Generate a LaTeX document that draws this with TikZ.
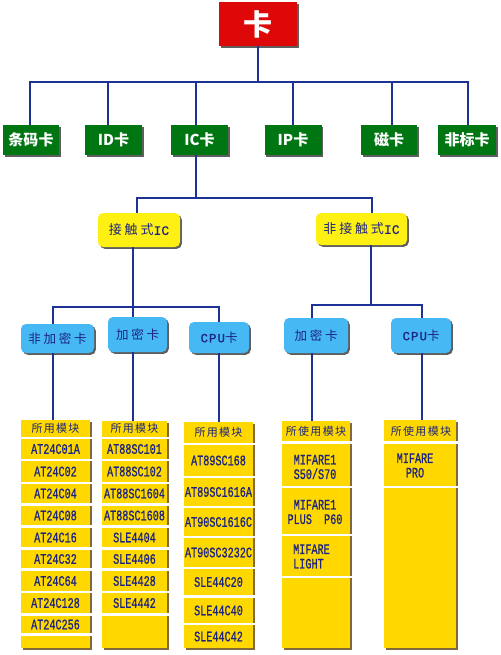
\documentclass[tikz,border=0pt]{standalone}
\usepackage{fontspec}
\usetikzlibrary{shadows}
\newfontfamily\cjk{Noto Sans CJK SC}
\newfontfamily\cjks[LetterSpace=22]{Noto Sans CJK SC}
\newfontfamily\cjkh[LetterSpace=12]{Noto Sans CJK SC}
\newfontfamily\mono[FakeStretch=0.7,FakeBold=0.8]{Liberation Mono}
\newfontfamily\monoy[FakeBold=0.8]{Liberation Mono}
\newfontfamily\monow[LetterSpace=8,FakeBold=0.8]{Liberation Mono}
\definecolor{connc}{RGB}{30,50,150}
\definecolor{redc}{RGB}{222,8,8}
\definecolor{greenc}{RGB}{0,118,18}
\definecolor{yellowc}{RGB}{255,240,20}
\definecolor{bluec}{RGB}{70,184,244}
\definecolor{goldc}{RGB}{255,216,0}
\definecolor{navyc}{RGB}{28,36,128}
\definecolor{shadc}{RGB}{95,95,95}
\definecolor{colshad}{RGB}{130,105,60}
\tikzset{
  conn/.style={draw=connc, line width=1.8pt},
  boxshadow/.style={drop shadow={shadow xshift=1.8pt, shadow yshift=-1.8pt, fill=shadc, opacity=1}},
  redbox/.style={fill=redc, inner sep=0pt, text=white, boxshadow,
    font=\cjk\bfseries\fontsize{29}{30}\selectfont},
  greenbox/.style={fill=greenc, minimum height=30pt, inner sep=0pt, text=white, boxshadow,
    font=\cjk\bfseries\fontsize{15}{16}\selectfont},
  yellowbox/.style={fill=yellowc, rounded corners=5pt, inner sep=0pt, text=navyc, boxshadow,
    font=\fontsize{13}{14}\selectfont},
  bluebox/.style={fill=bluec, rounded corners=5pt, inner sep=0pt, text=navyc, boxshadow,
    font=\fontsize{12.5}{14}\selectfont},
  colbox/.style={fill=goldc, inner sep=0pt,
    drop shadow={shadow xshift=2pt, shadow yshift=-2pt, fill=colshad, opacity=1}},
  colhead/.style={inner sep=0pt, text=navyc, font=\cjkh\fontsize{11}{12}\selectfont},
  coltext/.style={inner sep=0pt, text=navyc, align=center, font=\mono\fontsize{14.5}{14.5}\selectfont},
  sep/.style={draw=white, line width=2.2pt}
}
\begin{document}
\begin{tikzpicture}[x=1pt,y=-1pt]
\useasboundingbox[fill=white] (0,0) rectangle (500,655);

% level 0
\node[redbox, minimum width=78pt, minimum height=44pt] (root) at (258,24) {卡};
% level 1
\node[greenbox, minimum width=56pt] (g1) at (31,140) {条码卡};
\node[greenbox, minimum width=57pt] (g2) at (113.5,140) {ID卡};
\node[greenbox, minimum width=57pt] (g3) at (199.5,140) {IC卡};
\node[greenbox, minimum width=57pt] (g4) at (293,140) {IP卡};
\node[greenbox, minimum width=56pt] (g5) at (389,140) {磁卡};
\node[greenbox, minimum width=58pt] (g6) at (467,140) {非标卡};
\coordinate (bus1) at (258,82);
\draw[conn] (root.south) -- (bus1);
\draw[conn] ([xshift=-1pt]g1.north) |- (bus1);
\draw[conn] ([xshift=-5.5pt]g2.north) |- (bus1);
\draw[conn] ([xshift=-3.5pt]g3.north) |- (bus1);
\draw[conn] (g4.north) |- (bus1);
\draw[conn] ([xshift=3pt]g5.north) |- (bus1);
\draw[conn] ([xshift=1pt]g6.north) |- (bus1);

% level 2
\node[yellowbox, minimum width=82pt, minimum height=34pt] (y1) at (139,230) {{\cjks 接触式}{\monoy IC}};
\node[yellowbox, minimum width=91pt, minimum height=32pt] (y2) at (361.5,229) {{\cjks 非接触式}{\monoy IC}};
\coordinate (bus2) at (196,198);
\draw[conn] ([xshift=-3.5pt]g3.south) -- (bus2);
\draw[conn] ([xshift=-2pt]y1.north) |- (bus2);
\draw[conn] ([xshift=10.5pt]y2.north) |- (bus2);

% level 3
\node[bluebox, minimum width=73pt, minimum height=29pt] (b1) at (57.5,338.5) {\cjks 非加密卡};
\node[bluebox, minimum width=59pt, minimum height=35pt] (b2) at (137.5,334.5) {\cjks 加密卡};
\node[bluebox, minimum width=60pt, minimum height=31pt] (b3) at (219,337.5) {{\monow CPU}{\cjks 卡}};
\node[bluebox, minimum width=64pt, minimum height=35pt] (b4) at (316,335.5) {\cjks 加密卡};
\node[bluebox, minimum width=60pt, minimum height=35pt] (b5) at (421,335.5) {{\monow CPU}{\cjks 卡}};
\coordinate (bus3l) at (133,307);
\coordinate (bus3r) at (371,305);
\draw[conn] ([xshift=-6pt]y1.south) -- (bus3l);
\draw[conn] ([xshift=-4.5pt]b1.north) |- (bus3l);
\draw[conn] ([xshift=-4.5pt]b2.north) |- (bus3l);
\draw[conn] (b3.north) |- (bus3l);
\draw[conn] ([xshift=9.5pt]y2.south) -- (bus3r);
\draw[conn] ([xshift=-4pt]b4.north) |- (bus3r);
\draw[conn] ([xshift=1pt]b5.north) |- (bus3r);

% columns
\node[colbox, minimum width=69pt, minimum height=228pt] (c1) at (55.5,534) {};
\node[colbox, minimum width=65pt, minimum height=227pt] (c2) at (134.5,534.5) {};
\node[colbox, minimum width=69pt, minimum height=226pt] (c3) at (218.5,535) {};
\node[colbox, minimum width=68pt, minimum height=227pt] (c4) at (316,534.5) {};
\node[colbox, minimum width=72pt, minimum height=228pt] (c5) at (420,534) {};

\draw[conn] ([xshift=-4.5pt]b1.south) -- ([xshift=-4.5pt]b1.south |- c1.north);
\draw[conn] ([xshift=-4.5pt]b2.south) -- ([xshift=-4.5pt]b2.south |- c2.north);
\draw[conn] (b3.south) -- (b3.south |- c3.north);
\draw[conn] ([xshift=-4pt]b4.south) -- ([xshift=-4pt]b4.south |- c4.north);
\draw[conn] ([xshift=1pt]b5.south) -- ([xshift=1pt]b5.south |- c5.north);

% separators
\foreach \yy in {438,460,483,504.5,526.5,548.5,569.5,592,614.5,634.5}
  \draw[sep] (19,\yy) -- (93,\yy);
\foreach \yy in {438,460,483,504.5,526.5,548.5,569.5,592,614.5}
  \draw[sep] (100,\yy) -- (170,\yy);
\foreach \yy in {444,477,507,537,568,596.5,624}
  \draw[sep] (182,\yy) -- (256,\yy);
\foreach \yy in {442.5,487,535,577}
  \draw[sep] (280,\yy) -- (353,\yy);
\foreach \yy in {442.5,487}
  \draw[sep] (382,\yy) -- (459,\yy);

% column texts
\node[colhead] (c1h) at (55.5,428.5) {所用模块};
\foreach \t/\yy [count=\i] in {AT24C01A/449,AT24C02/471.5,AT24C04/493.5,AT24C08/515.5,AT24C16/537.5,AT24C32/559,AT24C64/581,AT24C128/603,AT24C256/624.5}
  \node[coltext] (c1r\i) at (55.5,\yy) {\t};
\node[colhead] (c2h) at (134.5,428.5) {所用模块};
\foreach \t/\yy [count=\i] in {AT88SC101/449,AT88SC102/471.5,AT88SC1604/493.5,AT88SC1608/515.5,SLE4404/537.5,SLE4406/559,SLE4428/581,SLE4442/603}
  \node[coltext] (c2r\i) at (134.5,\yy) {\t};
\node[colhead] (c3h) at (218.5,432.5) {所用模块};
\foreach \t/\yy [count=\i] in {AT89SC168/460.5,AT89SC1616A/492,AT90SC1616C/522,AT90SC3232C/552.5,SLE44C20/582,SLE44C40/610.5,SLE44C42/636.5}
  \node[coltext] (c3r\i) at (218.5,\yy) {\t};
\node[colhead] (c4h) at (316,431.5) {所使用模块};
\node[coltext] (c4r1) at (315,467) {MIFARE1\\S50/S70};
\node[coltext] (c4r2) at (315,512) {MIFARE1\\PLUS\ \ P60};
\node[coltext, align=left, anchor=west] (c4r3) at (293,556.5) {MIFARE\\LIGHT};
\node[colhead] (c5h) at (421,431) {所使用模块};
\node[coltext] (c5r1) at (415,465.5) {MIFARE\\PRO};
\end{tikzpicture}
\end{document}
